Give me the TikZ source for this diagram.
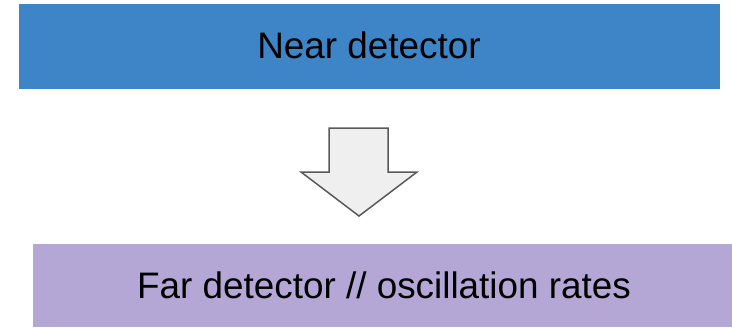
\documentclass[tikz,border=0pt]{standalone}
\usepackage{fontspec}
\setmainfont{Liberation Sans}
\definecolor{boxblue}{HTML}{3D85C6}
\definecolor{boxpurple}{HTML}{B4A7D6}
\definecolor{arrowfill}{HTML}{EFEFEF}
\definecolor{arrowline}{HTML}{595959}
\begin{document}
\begin{tikzpicture}[x=1bp,y=-1bp,
  band/.style={draw=none,inner sep=0pt,anchor=base,font=\fontsize{37}{44}\selectfont}]
\useasboundingbox (0,0) rectangle (732,327);
\fill[boxblue] (19,4) rectangle (720,89);
\node[band] (near) at (369,58) {Near detector};
\fill[boxpurple] (33,244) rectangle (732,327);
\node[band] (far) at (384,298) {Far detector // oscillation rates};
\draw[arrowline,fill=arrowfill,line width=1.5bp,line join=miter]
  (329,128) -- (388,128) -- (388,172) -- (417,172) -- (359,216) -- (301,172) -- (329,172) -- cycle;
\end{tikzpicture}
\end{document}
